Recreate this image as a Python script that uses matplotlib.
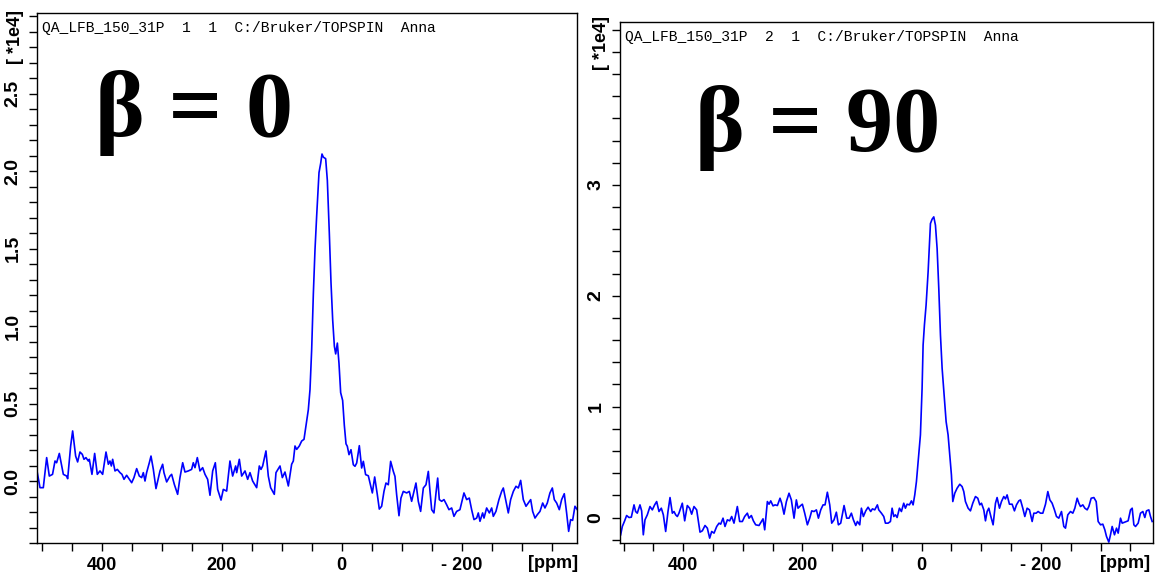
import matplotlib
matplotlib.use("Agg")
import matplotlib.pyplot as plt
from matplotlib.ticker import MultipleLocator, FixedLocator, FuncFormatter

# 31P spectra, intensity in units of 1e4, chemical shift in ppm
left_ppm = [507.5, 503.0, 497.5, 491.9, 487.5, 482.1, 478.0, 475.3, 470.8, 464.1,
            458.6, 456.9, 451.9, 448.6, 443.6, 440.3, 436.4, 432.5, 429.7, 426.4,
            422.5, 420.8, 416.4, 411.9, 407.5, 403.0, 398.6, 393.0, 389.1, 386.4,
            384.1, 381.9, 378.0, 374.1, 369.7, 366.4, 363.0, 358.6, 350.2, 346.4,
            341.9, 337.5, 333.6, 330.8, 328.0, 325.3, 320.8, 318.0, 314.1, 309.7,
            303.0, 298.6, 296.4, 291.9, 286.4, 283.6, 279.1, 276.4, 273.6, 269.7,
            265.2, 261.4, 255.8, 250.3, 247.5, 244.7, 240.8, 236.4, 231.9, 228.0,
            223.6, 219.7, 215.2, 210.8, 206.9, 201.3, 197.5, 191.9, 189.1, 186.4,
            181.9, 176.9, 175.2, 170.8, 166.9, 161.3, 156.9, 153.0, 148.6, 141.9,
            137.5, 134.7, 131.9, 126.4, 122.5, 118.6, 112.5, 109.7, 103.0, 99.1,
            94.7, 89.1, 83.6, 80.8, 78.0, 75.2, 70.8, 66.9, 63.0, 59.7,
            55.8, 53.0, 50.2, 47.4, 44.7, 41.9, 38.0, 35.2, 33.0, 30.8,
            26.9, 24.1, 20.8, 18.0, 15.2, 12.4, 10.2, 7.4, 4.7, 1.9,
            -1.4, -4.2, -7.0, -9.2, -12.0, -15.3, -19.2, -22.0, -24.8, -29.2,
            -33.1, -35.9, -39.7, -44.2, -47.0, -50.9, -54.8, -59.2, -62.5, -66.4,
            -70.3, -73.6, -77.5, -81.4, -85.9, -88.6, -91.4, -95.3, -98.6, -102.5,
            -108.1, -112.5, -116.4, -120.3, -123.6, -127.5, -131.4, -135.9, -140.3, -144.2,
            -147.0, -149.8, -153.6, -157.0, -159.8, -162.5, -166.4, -170.3, -174.7, -178.6,
            -183.1, -186.9, -191.4, -196.9, -203.6, -208.1, -212.5, -216.4, -220.3, -224.8,
            -227.5, -230.3, -234.7, -237.0, -241.4, -245.9, -249.8, -252.5, -256.9, -261.9,
            -266.4, -269.2, -273.1, -277.5, -281.4, -285.9, -290.3, -294.2, -298.1, -302.5,
            -307.0, -310.9, -314.8, -318.1, -322.0, -325.9, -330.3, -334.8, -338.6, -342.5,
            -346.9, -350.9, -354.2, -358.1, -362.5, -366.4, -370.8, -374.7, -378.1, -381.4,
            -384.7, -388.6, -392.5]
left_int = [0.054, -0.043, -0.043, 0.151, 0.032, 0.043, 0.129, 0.118, 0.178, 0.043,
            0.032, 0.015, 0.226, 0.323, 0.161, 0.123, 0.187, 0.172, 0.140, 0.151,
            0.129, 0.140, 0.043, 0.178, 0.043, 0.065, 0.043, 0.187, 0.108, 0.129,
            0.097, 0.140, 0.065, 0.075, 0.054, 0.043, 0.011, 0.037, -0.011, 0.022,
            0.080, 0.032, 0.022, 0.054, 0.000, 0.054, 0.118, 0.161, 0.075, -0.049,
            0.065, 0.108, 0.054, -0.006, 0.032, 0.043, -0.022, -0.054, -0.086, 0.022,
            0.118, 0.058, 0.065, 0.075, 0.118, 0.086, 0.151, 0.065, 0.086, 0.043,
            0.011, -0.092, 0.065, 0.118, -0.054, -0.123, -0.054, -0.065, 0.032, 0.129,
            0.032, 0.097, 0.054, 0.140, 0.032, 0.065, 0.011, 0.054, 0.000, -0.043,
            0.097, 0.075, 0.097, 0.194, 0.032, -0.043, -0.086, 0.054, 0.097, 0.022,
            0.058, -0.032, 0.108, 0.129, 0.226, 0.204, 0.226, 0.258, 0.269, 0.355,
            0.46, 0.59, 0.85, 1.21, 1.49, 1.71, 1.99, 2.05, 2.11, 2.09,
            2.08, 1.94, 1.60, 1.28, 1.04, 0.87, 0.82, 0.89, 0.76, 0.57,
            0.52, 0.36, 0.24, 0.224, 0.170, 0.202, 0.105, 0.095, 0.116, 0.228,
            0.084, 0.127, 0.041, 0.034, -0.013, -0.077, 0.026, -0.088, -0.181, -0.163,
            -0.067, -0.013, -0.024, 0.127, 0.062, 0.030, -0.088, -0.224, -0.110, -0.067,
            -0.077, -0.067, -0.131, -0.067, -0.013, -0.131, -0.196, -0.045, -0.024, 0.062,
            -0.067, -0.185, -0.206, -0.077, 0.019, -0.120, -0.131, -0.120, -0.153, -0.185,
            -0.174, -0.228, -0.196, -0.185, -0.077, -0.120, -0.110, -0.185, -0.249, -0.239,
            -0.206, -0.260, -0.206, -0.239, -0.174, -0.206, -0.174, -0.228, -0.196, -0.120,
            -0.067, -0.045, -0.120, -0.206, -0.120, -0.067, -0.034, -0.045, 0.004, -0.120,
            -0.163, -0.142, -0.120, -0.196, -0.239, -0.217, -0.196, -0.142, -0.174, -0.142,
            -0.077, -0.045, -0.120, -0.142, -0.185, -0.120, -0.082, -0.206, -0.325, -0.249,
            -0.254, -0.163, -0.185]

right_ppm = [504.9, 502.1, 498.2, 494.9, 490.9, 487.0, 482.5, 479.8, 477.0, 472.5,
             469.7, 466.9, 464.1, 460.2, 455.7, 451.8, 447.9, 444.5, 440.6, 436.7,
             433.3, 429.4, 425.5, 422.1, 418.2, 415.4, 412.6, 409.8, 407.1, 401.5,
             397.5, 393.1, 389.2, 385.8, 381.9, 377.4, 371.8, 367.9, 363.4, 359.5,
             355.6, 352.2, 348.3, 343.8, 339.9, 337.1, 333.2, 329.9, 325.9, 322.0,
             318.7, 314.8, 309.2, 305.3, 300.8, 296.9, 292.4, 289.6, 285.7, 282.3,
             278.4, 272.8, 268.9, 266.1, 263.3, 258.8, 256.0, 253.2, 249.3, 245.9,
             242.0, 237.6, 234.8, 230.9, 226.9, 222.5, 218.6, 214.1, 210.2, 207.4,
             202.9, 200.1, 196.2, 191.7, 187.8, 184.4, 180.5, 176.6, 173.2, 169.3,
             165.4, 162.1, 158.2, 154.2, 150.9, 147.0, 143.1, 139.7, 135.8, 130.2,
             125.7, 121.8, 117.9, 114.5, 110.6, 107.8, 103.9, 101.1, 97.8, 93.8,
             89.9, 85.5, 82.6, 78.7, 74.3, 72.0, 67.5, 63.6, 60.8, 56.3,
             52.4, 49.6, 46.8, 44.0, 41.2, 37.3, 34.0, 30.1, 27.3, 24.5,
             20.5, 17.2, 14.4, 11.6, 8.8, 6.0, 2.1, -0.7, -2.4, -4.6,
             -7.4, -10.8, -14.7, -17.5, -20.3, -23.1, -25.9, -28.7, -31.5, -34.3,
             -37.6, -41.0, -44.3, -47.1, -49.9, -52.2, -55.5, -59.4, -63.9, -67.8,
             -70.6, -73.4, -77.9, -81.8, -85.7, -90.2, -94.1, -97.5, -100.3, -104.2,
             -107.0, -109.8, -112.6, -116.5, -119.8, -123.8, -126.5, -130.5, -133.8, -137.7,
             -140.5, -143.3, -147.2, -151.7, -155.6, -159.0, -162.9, -165.7, -169.6, -173.0,
             -176.9, -180.8, -185.3, -188.1, -192.0, -195.3, -199.3, -203.2, -207.7, -211.6,
             -215.0, -218.8, -222.7, -226.1, -230.0, -234.5, -238.4, -241.2, -245.1, -249.6,
             -253.5, -256.9, -260.8, -263.6, -266.4, -270.3, -273.7, -277.6, -280.4, -284.3,
             -288.8, -292.7, -296.0, -300.0, -303.8, -307.2, -310.0, -313.9, -316.7, -319.5,
             -323.4, -326.8, -329.6, -333.5, -336.3, -340.8, -346.3, -350.3, -353.1, -355.9,
             -358.7, -363.1, -367.0, -371.0, -374.3, -377.1, -381.0, -383.8, -386.6]
right_int = [-0.156, -0.081, -0.030, 0.018, 0.000, 0.003, 0.114, 0.054, 0.039, 0.114,
             0.060, -0.156, -0.021, 0.024, 0.099, 0.069, 0.114, 0.144, 0.054, 0.084,
             0.024, -0.126, 0.054, 0.180, 0.039, 0.054, 0.024, 0.009, 0.039, 0.129,
             -0.030, 0.108, 0.084, 0.030, 0.099, 0.069, -0.132, -0.120, -0.072, -0.096,
             -0.186, -0.126, -0.141, -0.081, -0.051, -0.060, -0.006, -0.081, -0.021, -0.030,
             0.009, -0.051, 0.099, -0.036, -0.036, 0.009, 0.039, -0.006, 0.018, -0.030,
             -0.066, -0.072, -0.036, -0.012, -0.111, 0.144, 0.120, 0.150, 0.105, 0.114,
             0.108, 0.174, 0.129, 0.030, 0.144, 0.219, 0.159, -0.006, 0.159, 0.084,
             0.108, 0.120, 0.039, -0.066, -0.006, 0.060, 0.054, 0.069, -0.006, 0.069,
             0.114, 0.114, 0.228, 0.114, -0.051, -0.021, 0.048, -0.066, -0.051, 0.108,
             -0.006, -0.006, 0.039, -0.021, -0.072, -0.036, -0.066, 0.084, 0.009, 0.060,
             0.093, 0.054, 0.078, 0.069, 0.114, 0.069, 0.039, 0.009, -0.051, -0.051,
             -0.036, 0.084, 0.009, 0.024, 0.000, 0.084, 0.054, 0.129, 0.084, 0.120,
             0.114, 0.150, 0.114, 0.204, 0.324, 0.500, 0.745, 1.166, 1.556, 1.736,
             1.916, 2.216, 2.652, 2.691, 2.712, 2.637, 2.426, 2.066, 1.646, 1.346,
             1.105, 0.865, 0.745, 0.565, 0.384, 0.144, 0.219, 0.264, 0.300, 0.279,
             0.234, 0.144, 0.084, 0.060, 0.129, 0.189, 0.174, 0.114, 0.129, 0.069,
             -0.030, 0.054, 0.084, 0.000, -0.066, 0.129, 0.180, 0.084, 0.144, 0.189,
             0.168, 0.204, 0.120, 0.120, 0.060, 0.114, 0.150, 0.159, 0.084, 0.009,
             0.084, 0.069, -0.036, 0.039, 0.039, 0.054, 0.039, 0.039, 0.120, 0.234,
             0.159, 0.129, 0.069, 0.009, -0.006, 0.054, -0.081, -0.096, 0.024, 0.054,
             0.039, 0.084, 0.174, 0.129, 0.099, 0.114, 0.084, 0.069, 0.099, 0.174,
             0.180, 0.144, -0.036, -0.066, -0.060, -0.111, -0.171, -0.222, -0.156, -0.081,
             -0.156, -0.096, -0.141, -0.006, -0.051, -0.042, -0.030, 0.069, 0.084, -0.066,
             -0.081, -0.051, 0.039, 0.054, 0.000, 0.060, 0.069, 0.009, -0.036]

left_header = "QA_LFB_150_31P  1  1  C:/Bruker/TOPSPIN  Anna"
right_header = "QA_LFB_150_31P  2  1  C:/Bruker/TOPSPIN  Anna"
left_beta = "\u03b2 = 0"
right_beta = "\u03b2 = 90"

plt.rcParams["font.family"] = "Liberation Sans"
plt.rcParams["font.weight"] = "bold"

W, H = 1155, 575
fig = plt.figure(figsize=(W / 100, H / 100), dpi=100)


def ppm_fmt(v, pos):
    if v < 0:
        return "- %d" % (-v)
    return "%d" % v


def draw_panel(box, ppm, inten, xlim, ylim, yticks, yfmt, yminor, header, beta, beta_pos):
    ax = fig.add_axes(box)
    ax.plot(ppm, inten, color="#0000ff", lw=1.2)
    ax.set_xlim(*xlim)
    ax.set_ylim(*ylim)
    ax.xaxis.set_major_locator(MultipleLocator(200))
    ax.xaxis.set_minor_locator(MultipleLocator(50))
    ax.xaxis.set_major_formatter(FuncFormatter(ppm_fmt))
    ax.yaxis.set_major_locator(FixedLocator(yticks))
    ax.yaxis.set_minor_locator(MultipleLocator(yminor))
    ax.yaxis.set_major_formatter(FuncFormatter(lambda v, p: yfmt % v))
    ax.tick_params(which="both", direction="out", length=6, width=1,
                   labelsize=13, top=False, right=False)
    ax.tick_params(axis="x", pad=4)
    ax.tick_params(axis="y", pad=5, labelsize=14)
    plt.setp(ax.get_yticklabels(), rotation=90, va="center")
    for s in ax.spines.values():
        s.set_linewidth(1.0)
    ax.text(0.009, 0.972, header, transform=ax.transAxes, ha="left", va="center",
            family="Liberation Mono", fontsize=10.5, weight="normal")
    ax.text(beta_pos[0], beta_pos[1], beta, transform=ax.transAxes, ha="left",
            va="baseline", family="Liberation Serif", fontsize=68, weight="bold")
    return ax


# left panel
draw_panel([37 / W, 1 - 543 / H, 540 / W, 530 / H], left_ppm, left_int,
           (508, -392), (-0.4, 3.02), [0, 0.5, 1.0, 1.5, 2.0, 2.5], "%.1f", 0.1,
           left_header, left_beta, (0.107, 0.768))
fig.text(15 / W, 1 - 37 / H, "[ *1e4]", rotation=90, ha="center", va="center", fontsize=13)
fig.text(553 / W, 1 - 563 / H, "[ppm]", ha="center", va="center", fontsize=13)

# right panel
draw_panel([620 / W, 1 - 543 / H, 533 / W, 521 / H], right_ppm, right_int,
           (506, -388), (-0.23, 4.47), [0, 1, 2, 3], "%d", 0.2,
           right_header, right_beta, (0.141, 0.752))
fig.text(601 / W, 1 - 43 / H, "[ *1e4]", rotation=90, ha="center", va="center", fontsize=13)
fig.text(1125 / W, 1 - 563 / H, "[ppm]", ha="center", va="center", fontsize=13)

fig.savefig("out.png", dpi=100)
